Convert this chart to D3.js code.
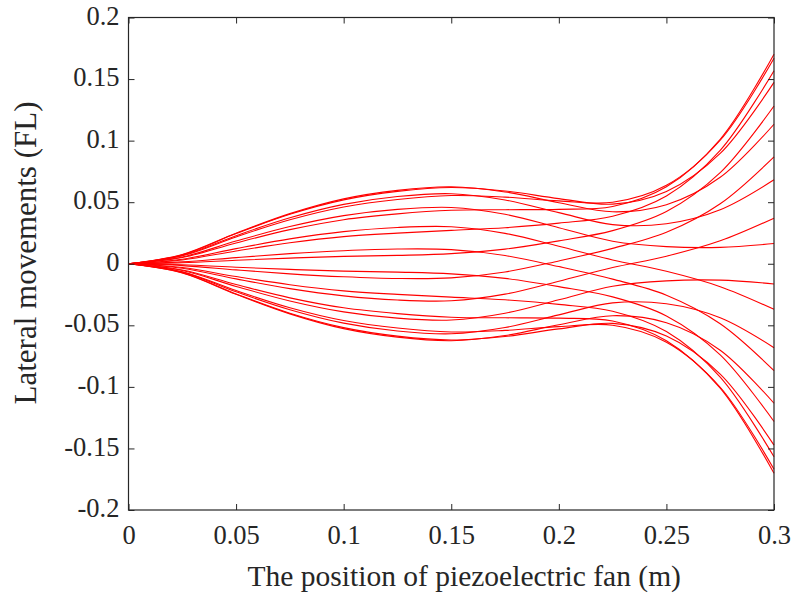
<!DOCTYPE html>
<html>
<head>
<meta charset="utf-8">
<script src="https://cdn.jsdelivr.net/npm/d3@7"></script>
<style>
  html, body { margin: 0; padding: 0; background: #fff; }
  svg text { font-family: "Liberation Serif", "Times New Roman", serif; fill: #262626; }
</style>
</head>
<body>
<svg id="chart" width="795" height="600"></svg>
<script>
// positions along the fan (m)
const xPos = [0, 0.025, 0.05, 0.075, 0.1, 0.125, 0.15, 0.175, 0.2, 0.225, 0.25, 0.275, 0.3];

// lateral movement of each snapshot
const lateral = [
  [0, 0.0051, 0.0169, 0.0277, 0.0358, 0.0405, 0.0434, 0.0439, 0.0442, 0.0465, 0.0625, 0.1011, 0.1702],
  [0, 0.0065, 0.0218, 0.0357, 0.0461, 0.0522, 0.0554, 0.0541, 0.0511, 0.0499, 0.0637, 0.1003, 0.1669],
  [0, 0.0073, 0.0245, 0.0402, 0.0519, 0.0588, 0.0619, 0.0591, 0.0529, 0.0484, 0.0587, 0.0896, 0.1473],
  [0, 0.0075, 0.0248, 0.0407, 0.0527, 0.0596, 0.0625, 0.0583, 0.0496, 0.0422, 0.0479, 0.0702, 0.1133],
  [0, 0.0068, 0.0228, 0.0373, 0.0482, 0.0546, 0.0569, 0.0518, 0.0415, 0.0318, 0.0325, 0.0439, 0.0682],
  [0, 0.0055, 0.0184, 0.0302, 0.0391, 0.0442, 0.0457, 0.0402, 0.0293, 0.0183, 0.0139, 0.0133, 0.0164],
  [0, 0.0037, 0.0123, 0.0202, 0.0261, 0.0295, 0.0301, 0.0247, 0.0142, 0.0031, -0.0061, -0.0186, -0.0370],
  [0, 0.0015, 0.0050, 0.0082, 0.0106, 0.0120, 0.0115, 0.0067, -0.0023, -0.0125, -0.0255, -0.0487, -0.0868],
  [0, -0.0008, -0.0028, -0.0046, -0.0060, -0.0068, -0.0082, -0.0119, -0.0186, -0.0269, -0.0424, -0.0740, -0.1281],
  [0, -0.0031, -0.0104, -0.0170, -0.0220, -0.0249, -0.0271, -0.0293, -0.0330, -0.0386, -0.0551, -0.0921, -0.1568],
  [0, -0.0051, -0.0169, -0.0277, -0.0358, -0.0405, -0.0434, -0.0439, -0.0442, -0.0465, -0.0625, -0.1011, -0.1702],
  [0, -0.0065, -0.0218, -0.0357, -0.0461, -0.0522, -0.0554, -0.0541, -0.0511, -0.0499, -0.0637, -0.1003, -0.1669],
  [0, -0.0073, -0.0245, -0.0402, -0.0519, -0.0588, -0.0619, -0.0591, -0.0529, -0.0484, -0.0587, -0.0896, -0.1473],
  [0, -0.0075, -0.0248, -0.0407, -0.0527, -0.0596, -0.0625, -0.0583, -0.0496, -0.0422, -0.0479, -0.0702, -0.1133],
  [0, -0.0068, -0.0228, -0.0373, -0.0482, -0.0546, -0.0569, -0.0518, -0.0415, -0.0318, -0.0325, -0.0439, -0.0682],
  [0, -0.0055, -0.0184, -0.0302, -0.0391, -0.0442, -0.0457, -0.0402, -0.0293, -0.0183, -0.0139, -0.0133, -0.0164],
  [0, -0.0037, -0.0123, -0.0202, -0.0261, -0.0295, -0.0301, -0.0247, -0.0142, -0.0031, 0.0061, 0.0186, 0.0370],
  [0, -0.0015, -0.0050, -0.0082, -0.0106, -0.0120, -0.0115, -0.0067, 0.0023, 0.0125, 0.0255, 0.0487, 0.0868],
  [0, 0.0008, 0.0028, 0.0046, 0.0060, 0.0068, 0.0082, 0.0119, 0.0186, 0.0269, 0.0424, 0.0740, 0.1281],
  [0, 0.0031, 0.0104, 0.0170, 0.0220, 0.0249, 0.0271, 0.0293, 0.0330, 0.0386, 0.0551, 0.0921, 0.1568]
];

const xTicks = [0, 0.05, 0.1, 0.15, 0.2, 0.25, 0.3];
const xTickLabels = ["0", "0.05", "0.1", "0.15", "0.2", "0.25", "0.3"];
const yTicks = [-0.2, -0.15, -0.1, -0.05, 0, 0.05, 0.1, 0.15, 0.2];
const yTickLabels = ["-0.2", "-0.15", "-0.1", "-0.05", "0", "0.05", "0.1", "0.15", "0.2"];

const xTitle = "The position of piezoelectric fan (m)";
const yTitle = "Lateral movements (FL)";

const margin = { top: 17.5, right: 21, bottom: 90, left: 128.5 };
const width = 795 - margin.left - margin.right;
const height = 600 - margin.top - margin.bottom;

const svg = d3.select("#chart");
const g = svg.append("g").attr("transform", `translate(${margin.left},${margin.top})`);

const x = d3.scaleLinear().domain([0, 0.3]).range([0, width]);
const y = d3.scaleLinear().domain([-0.2, 0.2]).range([height, 0]);

const fmtX = d => xTickLabels[xTicks.indexOf(d)];
const fmtY = d => yTickLabels[yTicks.indexOf(d)];

// curves first, frame on top
const line = d3.line()
  .x((d, i) => x(xPos[i]))
  .y(d => y(d))
  .curve(d3.curveCatmullRom.alpha(0.5));

g.append("g")
  .selectAll("path")
  .data(lateral)
  .enter()
  .append("path")
  .attr("d", line)
  .attr("fill", "none")
  .attr("stroke", "#ff0000")
  .attr("stroke-width", 1.1);

const axisColor = "#262626";
const fontSize = 26.5;

const axBottom = g.append("g")
  .attr("transform", `translate(0,${height})`)
  .call(d3.axisBottom(x).tickValues(xTicks).tickFormat(fmtX).tickSizeInner(-6).tickSizeOuter(0).tickPadding(15));
const axLeft = g.append("g")
  .call(d3.axisLeft(y).tickValues(yTicks).tickFormat(fmtY).tickSizeInner(-6).tickSizeOuter(0).tickPadding(9));
const axTop = g.append("g")
  .call(d3.axisTop(x).tickValues(xTicks).tickFormat("").tickSizeInner(-6).tickSizeOuter(0));
const axRight = g.append("g")
  .attr("transform", `translate(${width},0)`)
  .call(d3.axisRight(y).tickValues(yTicks).tickFormat("").tickSizeInner(-6).tickSizeOuter(0));

[axBottom, axLeft, axTop, axRight].forEach(a => {
  a.select(".domain").remove();
  a.selectAll("line").attr("stroke", axisColor);
  a.selectAll("text")
    .attr("font-family", "Liberation Serif, Times New Roman, serif")
    .attr("font-size", fontSize)
    .attr("fill", axisColor);
});
axLeft.selectAll("text").attr("dy", "0.25em");

g.append("rect")
  .attr("x", 0).attr("y", 0)
  .attr("width", width).attr("height", height)
  .attr("fill", "none")
  .attr("stroke", axisColor)
  .attr("stroke-width", 1.2);

g.append("text")
  .attr("x", width / 2 + 13)
  .attr("y", 586 - margin.top)
  .attr("text-anchor", "middle")
  .attr("font-size", 29.5)
  .text(xTitle);

g.append("text")
  .attr("transform", `translate(${36 - margin.left},${253 - margin.top}) rotate(-90)`)
  .attr("text-anchor", "middle")
  .attr("font-size", 31)
  .text(yTitle);
</script>
</body>
</html>
